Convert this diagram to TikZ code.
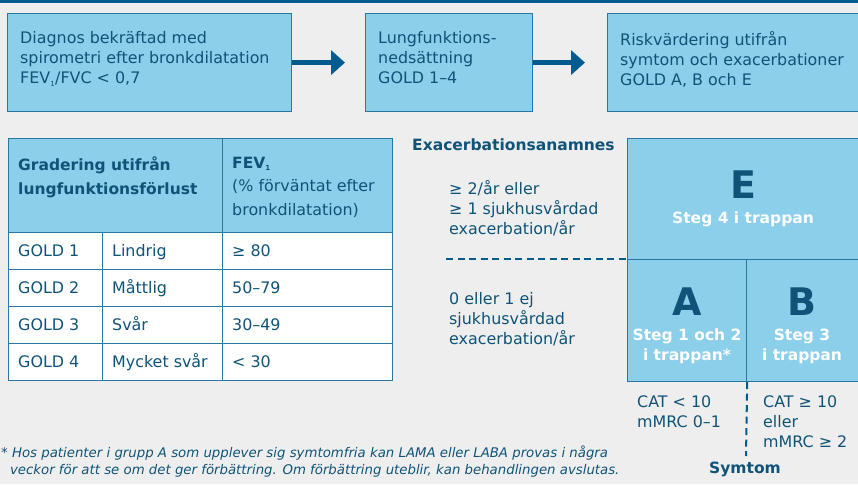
\documentclass[tikz,border=0pt]{standalone}
\usepackage{fontspec}
\setmainfont{DejaVu Sans}
\usetikzlibrary{arrows.meta}
\definecolor{bgc}{HTML}{EEEEEE}
\definecolor{lb}{HTML}{8BCFEA}
\definecolor{db}{HTML}{0F5478}
\definecolor{bd}{HTML}{2A77A3}
\definecolor{band}{HTML}{005B8E}
\newcommand{\fs}{\fontsize{15.9}{20}\selectfont}
\newcommand{\fb}{\fontsize{15.5}{20}\selectfont}
\begin{document}
\begin{tikzpicture}[x=1pt,y=-1pt,
  box/.style={fill=lb,draw=bd,line width=1.2pt,anchor=north west,inner sep=0},
  cell/.style={fill=white,draw=bd,line width=1.2pt,anchor=north west,inner sep=0},
  txt/.style={text=db,align=left,anchor=north west,inner sep=0,font=\fs},
  ctxt/.style={text=db,anchor=base west,inner sep=0,font=\fs},
  arr/.style={draw=band,line width=4.5pt,-{Triangle[length=14pt,width=24pt]}},
  big/.style={text=db,inner sep=0,font=\bfseries\fontsize{38}{38}\selectfont},
  steg/.style={text=white,inner sep=0,align=center,font=\bfseries\fb},
  dsh/.style={draw=band,line width=2pt,dash pattern=on 7pt off 4.5pt}]
\useasboundingbox (0,0) rectangle (858,484);
\fill[bgc] (0,0) rectangle (858,484);
\fill[band] (0,0) rectangle (858,3.5);
% top flow
\node[box,minimum width=284pt,minimum height=98pt] (b1) at (7,13) {};
\node[box,minimum width=167pt,minimum height=98pt] (b2) at (365,13) {};
\node[box,minimum width=260pt,minimum height=98pt] (b3) at (607,13) {};
\node[txt] (t1) at (20,31.5) {Diagnos bekräftad med\\spirometri efter bronkdilatation\\FEV\textsubscript{\scriptsize 1}/FVC < 0,7};
\node[txt] (t2) at (378,31.5) {Lungfunktions-\\nedsättning\\GOLD 1–4};
\node[txt] (t3) at (620,31.5) {Riskvärdering utifrån\\symtom och exacerbationer\\GOLD A, B och E};
\draw[arr] (b1.east) -- ([xshift=-20pt]b2.west);
\draw[arr] (b2.east) -- ([xshift=-22pt]b3.west);
% table
\node[box,minimum width=214pt,minimum height=94pt] (h1) at (8,138) {};
\node[box,minimum width=170pt,minimum height=94pt] (h2) at (222,138) {};
\node[txt,font=\bfseries\fontsize{15.5}{24}\selectfont] (h1t) at (18,156.5) {Gradering utifrån\\lungfunktionsförlust};
\node[txt,font=\fontsize{15.9}{23.5}\selectfont] (h2t) at (232,156.5) {\textbf{\fontsize{15.5}{23.5}\selectfont FEV\textsubscript{\scriptsize 1}}\\(\% förväntat efter\\bronkdilatation)};
\foreach \i/\g/\d/\v in {0/GOLD 1/Lindrig/≥ 80,1/GOLD 2/Måttlig/50–79,2/GOLD 3/Svår/30–49,3/GOLD 4/Mycket svår/< 30}{
  \node[cell,minimum width=94pt,minimum height=37pt] (ca\i) at (8,232+37*\i) {};
  \node[cell,minimum width=120pt,minimum height=37pt] (cb\i) at (102,232+37*\i) {};
  \node[cell,minimum width=170pt,minimum height=37pt] (cc\i) at (222,232+37*\i) {};
  \node[ctxt] (ga\i) at (18,256+37*\i) {\g};
  \node[ctxt] (gb\i) at (112,256+37*\i) {\d};
  \node[ctxt] (gc\i) at (232,256+37*\i) {\v};
}
% risk matrix
\node[txt,font=\bfseries\fb] (exh) at (412,138.5) {Exacerbationsanamnes};
\node[txt] (ex1) at (449,180.5) {≥ 2/år eller\\≥ 1 sjukhusvårdad\\exacerbation/år};
\node[txt] (ex2) at (449,292.5) {0 eller 1 ej\\sjukhusvårdad\\exacerbation/år};
\node[box,minimum width=240pt,minimum height=121pt] (E) at (627,138) {};
\node[box,minimum width=119pt,minimum height=122pt] (A) at (627,259) {};
\node[box,minimum width=120pt,minimum height=122pt] (B) at (746,259) {};
\node[big] (El) at (743,185) {E};
\node[big] (Al) at (687,302) {A};
\node[big] (Bl) at (802,302) {B};
\node[steg] (Es) at (743,219) {Steg 4 i trappan};
\node[steg] (As) at (687,346) {Steg 1 och 2\\i trappan*};
\node[steg] (Bs) at (802,346) {Steg 3\\i trappan};
\coordinate (dl) at (446,259);
\draw[dsh] (dl) -- (A.north west);
\coordinate (dv) at (746,456);
\draw[dsh] (A.south east) -- (dv);
\node[txt] (s1) at (637,395.5) {CAT < 10\\mMRC 0–1};
\node[txt] (s2) at (763,395.5) {CAT ≥ 10\\eller\\mMRC ≥ 2};
\node[text=db,inner sep=0,font=\bfseries\fb] (sym) at (745,469) {Symtom};
% footnote
\node[txt,font=\itshape\fontsize{13.3}{17}\selectfont] (fn) at (1,446) {* Hos patienter i grupp A som upplever sig symtomfria kan LAMA eller LABA provas i några\\\phantom{*\,}veckor för att se om det ger förbättring. Om förbättring uteblir, kan behandlingen avslutas.};
\end{tikzpicture}
\end{document}
